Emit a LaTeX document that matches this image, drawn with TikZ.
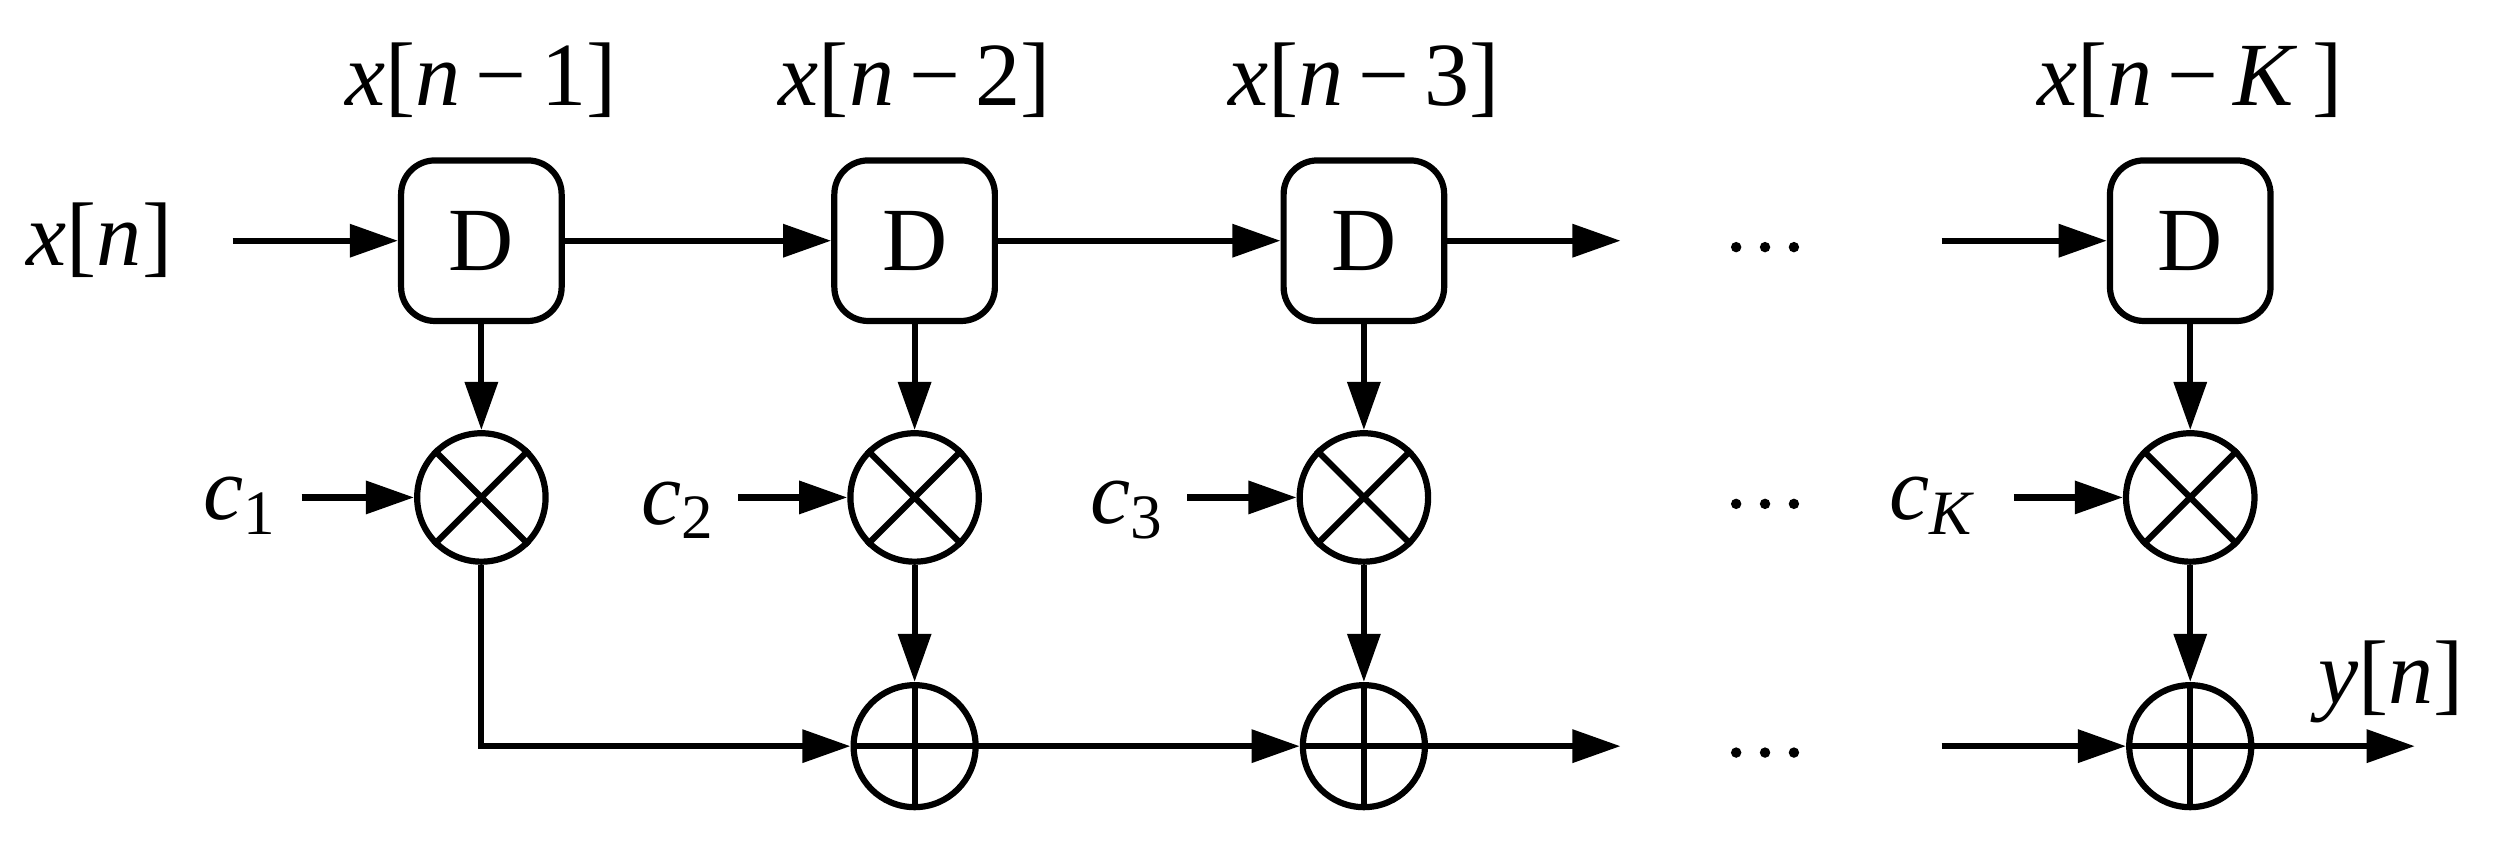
\documentclass[tikz,border=0pt]{standalone}
\usepackage{fontspec}
\setmainfont{Liberation Serif}[ItalicFont={Liberation Serif Italic}]
\usetikzlibrary{arrows.meta}
\begin{document}
\begin{tikzpicture}[x=0.01cm,y=-0.01cm,line width=1.1pt,
  every node/.style={font=\fontsize{16}{18}\selectfont},
  dbox/.style={draw,rounded corners=6pt,minimum width=1cm,minimum height=1cm,inner sep=0pt},
  mult/.style={draw,circle,minimum size=0.8cm,inner sep=0pt},
  add/.style={draw,circle,minimum size=0.76cm,inner sep=0pt},
  arr/.style={-{Triangle[length=0.3cm,width=0.2cm]}},
  lbl/.style={inner sep=0pt},
  dot/.style={fill,circle,inner sep=0pt,minimum size=0.065cm}]
\useasboundingbox (0,0) rectangle (1568,526);
% delay boxes
\node[dbox] (d1) at (300,150) {D};
\node[dbox] (d2) at (570,150) {D};
\node[dbox] (d3) at (850,150) {D};
\node[dbox] (dk) at (1365,150) {D};
\node[lbl] (l1) at (300,50) {\textit{x}[\textit{n}\,−\,1]};
\node[lbl] (l2) at (570,50) {\textit{x}[\textit{n}\,−\,2]};
\node[lbl] (l3) at (850,50) {\textit{x}[\textit{n}\,−\,3]};
\node[lbl] (lk) at (1365,50) {\textit{x}[\textit{n}\,−\,\textit{K}\,]};
\node[lbl] (xn) at (62,150) {\textit{x}[\textit{n}]};
\coordinate (xs) at (145,150);
\coordinate (e1) at (1010,150);
\coordinate (s1) at (1210,150);
\draw[arr] (xs) -- (d1);
\draw[arr] (d1) -- (d2);
\draw[arr] (d2) -- (d3);
\draw[arr] (d3) -- (e1);
\draw[arr] (s1) -- (dk);
\foreach \yy/\nn in {150/a,310/b,465/c}{
  \node[dot] (\nn1) at (1082,\yy+4) {};
  \node[dot] (\nn2) at (1100,\yy+4) {};
  \node[dot] (\nn3) at (1118,\yy+4) {};}
% multipliers
\node[mult] (m1) at (300,310) {};
\node[mult] (m2) at (570,310) {};
\node[mult] (m3) at (850,310) {};
\node[mult] (mk) at (1365,310) {};
\foreach \a in {1,2,3,k}{
  \draw[arr] (d\a) -- (m\a);
  \draw (m\a.north west) -- (m\a.south east) (m\a.north east) -- (m\a.south west);}
\node[lbl] (c1) at (150,315) {\textit{c}\textsubscript{1}};
\node[lbl] (c2) at (423,318) {\textit{c}\textsubscript{2}};
\node[lbl] (c3) at (703,318) {\textit{c}\textsubscript{3}};
\node[lbl] (ck) at (1205,315) {\textit{c}\textsubscript{\textit{K}}};
\coordinate (c1e) at (188,310); \draw[arr] (c1e) -- (m1);
\coordinate (c2e) at (460,310); \draw[arr] (c2e) -- (m2);
\coordinate (c3e) at (740,310); \draw[arr] (c3e) -- (m3);
\coordinate (cke) at (1255,310); \draw[arr] (cke) -- (mk);
% adders
\node[add] (a2) at (570,465) {};
\node[add] (a3) at (850,465) {};
\node[add] (ak) at (1365,465) {};
\foreach \a in {2,3,k}
  \draw (a\a.north) -- (a\a.south) (a\a.west) -- (a\a.east);
\draw[arr] (m2) -- (a2);
\draw[arr] (m3) -- (a3);
\draw[arr] (mk) -- (ak);
\draw[arr] (m1) |- (a2);
\draw[arr] (a2) -- (a3);
\coordinate (e2) at (1010,465); \draw[arr] (a3) -- (e2);
\coordinate (s2) at (1210,465); \draw[arr] (s2) -- (ak);
\coordinate (yo) at (1505,465); \draw[arr] (ak) -- (yo);
\node[lbl] (yn) at (1490,425) {\textit{y}[\textit{n}]};
\end{tikzpicture}
\end{document}
